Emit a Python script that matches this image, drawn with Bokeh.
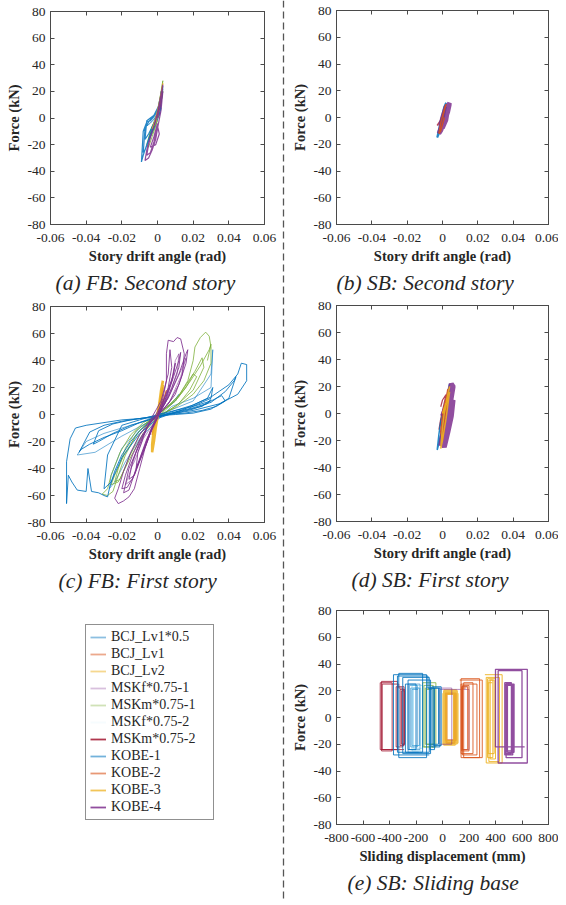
from bokeh.plotting import figure
from bokeh.models import (FixedTicker, LinearAxis, Range1d, Title, Span, Legend,
                          LegendItem, CustomJSTickFormatter)
from bokeh.layouts import row, column
from bokeh.embed import file_html
from bokeh.resources import INLINE

# ---------------- data ----------------
SERIES = ["BCJ_Lv1*0.5", "BCJ_Lv1", "BCJ_Lv2", "MSKf*0.75-1", "MSKm*0.75-1",
          "MSKf*0.75-2", "MSKm*0.75-2", "KOBE-1", "KOBE-2", "KOBE-3", "KOBE-4"]
COLORS = ["#0072BD", "#D95319", "#EDB120", "#7E2F8E", "#77AC30",
          "#4DBEEE", "#A2142F", "#0072BD", "#D95319", "#EDB120", "#7E2F8E"]
LEGEND_ALPHA = [0.45, 0.5, 0.5, 0.3, 0.35, 0.05, 0.85, 0.55, 0.6, 0.75, 0.85]
PLOT_ALPHA = [0.55, 0.7, 0.8, 0.55, 0.75, 0.5, 0.8, 0.85, 0.85, 0.9, 0.85]

DRIFT_TICKS = [-0.06, -0.04, -0.02, 0, 0.02, 0.04, 0.06]
FORCE_TICKS = [-80, -60, -40, -20, 0, 20, 40, 60, 80]
SLIDE_TICKS = [-800, -600, -400, -200, 0, 200, 400, 600, 800]

# (a) FB second story: (drift rad, force kN)
A_BCJ05 = [(0, 0), (0.002, 15), (0.001, 10), (-0.002, -3), (-0.004, -12), (-0.002, -8), (0, 0),
           (0.002, 10), (0.001, 4), (-0.003, -2), (-0.006, -6), (-0.004, -4), (0, 2)]
A_KOBE1 = [(0.000, 0), (0.001, 6), (0.002, 14), (0.003, 24), (0.002, 18), (0.000, 6), (-0.002, 1),
           (-0.004, -2), (-0.006, -3), (-0.008, -10), (-0.009, -33), (-0.008, -28), (-0.006, -20),
           (-0.004, -12), (-0.002, -6), (0.000, -1), (0.001, 4), (0.002, 12), (0.003, 22), (0.001, 10),
           (-0.002, 2), (-0.005, -3), (-0.007, -8), (-0.008, -26), (-0.007, -24), (-0.004, -14),
           (-0.001, -4), (0.001, 4), (0.002, 12), (0.002, 20), (0.001, 8), (-0.001, 3), (-0.004, 0),
           (-0.006, -2), (-0.007, -16), (-0.005, -12), (-0.002, -4), (0.001, 2), (0.002, 8)]
A_MSKM1 = [(0.000, 0), (0.001, 8), (0.002, 18), (0.003, 28), (0.002, 20), (0.000, 5), (-0.002, -4),
           (-0.004, -10), (-0.006, -20), (-0.005, -22), (-0.003, -14), (-0.001, -6), (0.001, 4), (0.003, 20),
           (0.002, 12), (0.000, 2), (-0.003, -6), (-0.005, -16), (-0.003, -12), (0.000, -2)]
A_KOBE3 = [(0, 0), (0.002, 14), (0.003, 26), (0.001, 12), (-0.001, 0), (-0.003, -8), (-0.001, -4), (0.001, 6)]
A_KOBE4 = [(0.000, 0), (0.002, 12), (0.003, 25), (0.002, 18), (0.000, 4), (-0.002, -6), (-0.004, -14),
           (-0.006, -24), (-0.007, -32), (-0.005, -30), (-0.003, -24), (-0.001, -16), (0.000, -8),
           (0.002, 6), (0.003, 20), (0.001, 8), (-0.001, -2), (-0.003, -10), (-0.005, -20), (-0.006, -28),
           (-0.004, -26), (-0.002, -18), (0.000, -6), (0.001, -12), (-0.001, -20), (-0.004, -22),
           (-0.002, -14), (0.000, -4)]

# (b) SB second story
B_KOBE1 = [(0, 0), (0.001, 6), (0.002, 11), (0.001, 8), (-0.001, -3), (-0.002, -9), (-0.003, -15),
           (-0.002, -12), (0, -4), (0.002, 8)]
B_MSKM2 = [(-0.001, -2), (-0.003, -6), (-0.002, -4), (0, 0)]
B_KOBE2 = [(0, 0), (0.001, 5), (0.002, 10), (0.001, 6), (-0.001, -4), (-0.002, -12), (-0.001, -10), (0.001, 0)]
B_KOBE4 = [(0.000, 0), (0.002, 6), (0.004, 11), (0.003, 4), (0.001, -3), (-0.001, -8), (-0.002, -12),
           (-0.001, -10), (0.001, -4), (0.003, 4), (0.004, 10), (0.002, 8), (0.000, 0), (-0.001, -6),
           (0.000, -8), (0.002, -2), (0.003, 6)]

# (c) FB first story
C_BCJ05 = [(0, 0), (0.008, 8), (0.012, 15), (0.010, 10), (0.000, 0), (-0.010, -10), (-0.020, -25),
           (-0.026, -45), (-0.027, -55), (-0.024, -50), (-0.018, -35), (-0.010, -18), (0, -4), (0.008, 6),
           (0.020, 12), (0.030, 20), (0.031, 48), (0.030, 30), (0.020, 10), (0.005, 2), (-0.010, -6),
           (-0.030, -14), (-0.040, -20), (-0.045, -30), (-0.035, -28), (-0.020, -16), (0, -2)]
C_BCJ1 = [(0, 0), (0.003, 10), (0.005, 18), (0.003, 8), (0, -2), (-0.004, -12), (-0.006, -20),
          (-0.004, -14), (0, -2), (0.004, 12)]
C_MSKF1 = [(0, 0), (0.004, 10), (0.008, 25), (0.010, 40), (0.012, 45), (0.011, 30), (0.006, 12), (0, 0),
           (-0.006, -10), (-0.012, -28), (-0.016, -45), (-0.018, -52), (-0.014, -48), (-0.009, -30),
           (-0.003, -10), (0.003, 5), (0.008, 18), (0.014, 35), (0.016, 42), (0.013, 28), (0.007, 10),
           (0, -2), (-0.008, -18), (-0.013, -35), (-0.015, -40)]
C_KOBE1 = [(0.000, 0), (0.010, 3), (0.020, 7), (0.030, 13), (0.040, 22), (0.045, 30), (0.047, 38),
           (0.050, 37), (0.050, 25), (0.045, 15), (0.035, 8), (0.020, 3), (0.010, 1), (0.000, -2),
           (-0.010, -3), (-0.020, -4), (-0.030, -6), (-0.040, -8), (-0.046, -10), (-0.049, -18),
           (-0.051, -35), (-0.051, -66), (-0.050, -45), (-0.048, -50), (-0.045, -56), (-0.040, -57),
           (-0.039, -40), (-0.037, -57), (-0.033, -58), (-0.030, -60), (-0.028, -61), (-0.027, -55),
           (-0.024, -42), (-0.020, -30), (-0.015, -20), (-0.010, -12), (-0.005, -6), (0.000, -2),
           (0.010, 2), (0.020, 5), (0.030, 9), (0.038, 17), (0.043, 25), (0.044, 28), (0.040, 12),
           (0.030, 4), (0.020, 1), (0.010, 0), (0.000, -1), (-0.010, -3), (-0.020, -5), (-0.030, -8),
           (-0.038, -13), (-0.044, -28), (-0.043, -26), (-0.038, -22), (-0.030, -17), (-0.020, -12),
           (-0.010, -6), (0.000, -2), (0.010, 3), (0.020, 6), (0.030, 10), (0.036, 14), (0.038, 10),
           (0.033, 6), (0.025, 3), (0.015, 1), (0.005, 0), (-0.005, -2), (-0.015, -4), (-0.025, -7),
           (-0.033, -12), (-0.036, -22), (-0.033, -20), (-0.025, -14), (-0.015, -8), (-0.005, -4),
           (0.005, 0), (0.015, 3), (0.025, 6), (0.030, 11), (0.028, 8), (0.020, 4), (0.010, 1), (0.000, 0),
           (-0.010, -4), (-0.020, -8), (-0.028, -30), (-0.030, -55), (-0.026, -50), (-0.020, -32),
           (-0.010, -14), (0.000, -3), (0.015, 4), (0.028, 12), (0.031, 20), (0.030, 12), (0.018, 5)]
C_MSKM1 = [(0, 0), (0.006, 6), (0.012, 14), (0.017, 25), (0.020, 40), (0.021, 50), (0.024, 57),
           (0.027, 61), (0.029, 58), (0.030, 50), (0.030, 38), (0.026, 25), (0.020, 15), (0.010, 5),
           (0.000, -1), (-0.008, -6), (-0.015, -15), (-0.021, -28), (-0.026, -45), (-0.028, -55),
           (-0.031, -59), (-0.028, -60), (-0.025, -57), (-0.022, -45), (-0.018, -30), (-0.012, -15),
           (-0.005, -5), (0.003, 3), (0.010, 10), (0.016, 20), (0.020, 30), (0.022, 28), (0.018, 18),
           (0.012, 8), (0.004, 1), (-0.004, -4), (-0.012, -12), (-0.018, -25), (-0.022, -40),
           (-0.024, -50), (-0.021, -48), (-0.016, -32), (-0.010, -15), (-0.003, -4), (0.004, 4),
           (0.012, 14), (0.018, 26), (0.021, 32), (0.025, 42), (0.026, 35), (0.020, 18), (0.010, 6),
           (0.000, -2), (-0.010, -12), (-0.018, -28), (-0.024, -45), (-0.026, -52), (-0.022, -50),
           (-0.016, -34), (-0.008, -14), (0.000, -2), (0.010, 10), (0.018, 24), (0.024, 36),
           (0.029, 48), (0.030, 52), (0.028, 40)]
C_KOBE2 = [(0, 0), (0.002, 10), (0.003, 20), (0.001, 8), (-0.001, -5), (-0.003, -15), (-0.002, -10), (0, 0)]
C_KOBE3 = [(0, 0), (0.002, 15), (0.003, 25), (0.002, 18), (0.001, 8), (0, 0), (-0.002, -10), (-0.003, -22),
           (-0.003, -28), (-0.002, -20), (-0.001, -10), (0.001, 5), (0.002, 12), (0.003, 22), (0.002, 10),
           (0, 0), (-0.002, -12), (-0.003, -25)]
C_KOBE4 = [(0, 0), (0.003, 12), (0.005, 25), (0.005, 45), (0.006, 55), (0.009, 54), (0.011, 57),
           (0.013, 56), (0.015, 45), (0.014, 30), (0.010, 15), (0.005, 6), (0.000, 0), (-0.005, -6),
           (-0.010, -15), (-0.015, -28), (-0.019, -42), (-0.022, -55), (-0.024, -62), (-0.022, -66),
           (-0.019, -64), (-0.016, -61), (-0.013, -55), (-0.010, -40), (-0.007, -25), (-0.003, -10),
           (0.002, 3), (0.007, 15), (0.012, 30), (0.016, 45), (0.017, 48), (0.016, 38), (0.012, 22),
           (0.007, 10), (0.002, 2), (-0.004, -6), (-0.009, -16), (-0.014, -30), (-0.018, -45),
           (-0.020, -55), (-0.017, -54), (-0.013, -45), (-0.008, -28), (-0.004, -14), (0.001, 0),
           (0.005, 12), (0.009, 28), (0.012, 40), (0.013, 46), (0.012, 35), (0.008, 20), (0.004, 8),
           (0.000, 0), (-0.005, -8), (-0.010, -20), (-0.014, -35), (-0.016, -48), (-0.013, -45),
           (-0.009, -30), (-0.004, -12), (0.000, 0), (0.004, 10), (0.008, 25), (0.010, 38), (0.009, 30),
           (0.005, 15), (0.000, 2), (-0.006, -10), (-0.011, -28), (-0.012, -40), (-0.008, -28),
           (-0.003, -10), (0.002, 5), (0.006, 20), (0.008, 35), (0.007, 48), (0.006, 30), (0.002, 10),
           (-0.004, -4), (-0.010, -22), (-0.016, -40), (-0.019, -58), (-0.016, -56), (-0.012, -40),
           (-0.006, -18), (0.000, -2)]

# (d) SB first story
D_MSKM2 = [(-0.001, 5), (0, 10), (0.002, 14), (0.001, 8), (-0.001, -4), (-0.002, -12), (-0.001, -6)]
D_KOBE1 = [(0, 0), (0.002, 8), (0.004, 22), (0.003, 14), (0.001, 4), (-0.001, -6), (-0.002, -15),
           (-0.003, -27), (-0.002, -22), (0, -10), (0.002, 4), (0.004, 18)]
D_KOBE2 = [(0, 0), (0.002, 10), (0.003, 18), (0.002, 10), (0, -2), (-0.001, -14), (0, -20), (0.001, -8), (0.003, 12)]
D_KOBE3 = [(0, 0), (0.002, 8), (0.004, 20), (0.003, 12), (0.001, 0), (0, -10), (-0.001, -26),
           (0, -20), (0.002, -4), (0.004, 16)]
D_KOBE4 = [(0.000, -2), (0.003, 8), (0.005, 16), (0.006, 21), (0.005, 12), (0.003, 2), (0.001, -10),
           (0.000, -20), (0.001, -25), (0.003, -14), (0.005, -2), (0.006, 10), (0.004, 4), (0.002, -6),
           (0.000, -16), (-0.001, -24), (0.000, -18), (0.002, -8), (0.004, 4), (0.006, 20), (0.005, 22),
           (0.003, 10), (0.001, -4), (0.000, -14), (0.002, -10), (0.004, 4), (0.005, 14)]

# (e) SB sliding base: reversal displacements (mm) and friction force per excursion (kN)
E_BCJ05_REV = [-180, -260, -170, -250, -190, -240, -175, -230, -185]
E_BCJ05_F = [26, 25, 24, 24, 22, 22, 21, 21]
E_BCJ1_REV = [20, 90, 30, 100, 25, 85]
E_BCJ1_F = [18, 19, 18, 17, 18]
E_BCJ2_REV = [10, 100, 15, 105, 20, 95, 10, 110, 25, 90, 15, 100]
E_BCJ2_F = [20, 19, 20, 18, 19, 20, 18, 19, 20, 18, 20]
E_MSKF1_REV = [-30, 70, -20, 200, 150, 190]
E_MSKF1_F = [22, 20, 21, 24, 23]
E_MSKM1_REV = [-60, -150, -50, -140, -70, -130, -60, -120, -80]
E_MSKM1_F = [22, 26, 22, 24, 20, 22, 20, 21]
E_MSKF2_REV = [-160, -230, -150, -220, -165, -210]
E_MSKF2_F = [25, 24, 23, 22, 21]
E_MSKM2_REV = [-290, -470, -380, -460, -340, -455, -330, -300, -350, -290, -320, -285, -310, -290, -305]
E_MSKM2_F = [24, 26, 25, 27, 24, 25, 22, 22, 23, 21, 21, 20, 20, 20]
E_KOBE1_REV = [-100, -370, -120, -330, -150, -280, -200, -260, -90, -300, -100, -340, -110, -60, -95,
               -20, -80, -10, -70, -30, -75]
E_KOBE1_F = [28, 32, 30, 33, 26, 25, 24, 28, 27, 30, 26, 31, 22, 24, 22, 22, 23, 21, 22, 20]
E_KOBE2_REV = [130, 300, 140, 280, 160, 230, 140, 260, 150, 200, 145, 190, 150, 175]
E_KOBE2_F = [28, 30, 29, 30, 26, 27, 25, 28, 24, 25, 23, 24, 22]
E_KOBE3_REV = [320, 450, 330, 430, 350, 380, 340, 400, 360, 390, 345, 375]
E_KOBE3_F = [32, 34, 30, 33, 28, 30, 29, 31, 28, 27, 26]
E_KOBE4_REV = [620, 400, 640, 420, 600, 480, 530, 470, 520, 480, 540, 490, 525, 485, 515]
E_KOBE4_F = [22, 36, 34, 35, 30, 25, 28, 26, 27, 25, 26, 24, 25, 24]

# ---------------- styling ----------------
FONT = "Liberation Serif"
AXC = "#4a4a4a"
TXT = "#262626"
DRIFT_FMT = "return Math.abs(tick) < 1e-9 ? '0' : tick.toFixed(2);"
INT_FMT = "return tick.toFixed(0);"
NAN = float("nan")


def style_axis(ax, ticks, fmt_code, label):
    ax.ticker = FixedTicker(ticks=ticks)
    ax.formatter = CustomJSTickFormatter(code=fmt_code)
    ax.axis_line_color = AXC
    ax.major_tick_line_color = AXC
    ax.major_tick_in = 4
    ax.major_tick_out = 0
    ax.minor_tick_in = 0
    ax.minor_tick_out = 0
    ax.major_label_text_font = FONT
    ax.major_label_text_color = TXT
    ax.major_label_text_font_size = "13.5px"
    ax.axis_label = label
    ax.axis_label_text_font = FONT
    ax.axis_label_text_font_style = "bold"
    ax.axis_label_text_font_size = "14.5px"
    ax.axis_label_text_color = TXT


def tick_only_axis(ticks):
    # mirrored box ticks (drawn as minor ticks so no labels are produced)
    ax = LinearAxis(ticker=FixedTicker(ticks=[], minor_ticks=ticks))
    ax.axis_line_color = AXC
    ax.minor_tick_line_color = AXC
    ax.minor_tick_in = 4
    ax.minor_tick_out = 0
    ax.major_tick_in = 0
    ax.major_tick_out = 0
    ax.major_label_standoff = 0
    return ax


def make_panel(xr, xticks, xfmt, xlabel, caption, w, h, ml, mr, mt, mb, cap_off):
    p = figure(width=w, height=h, x_range=Range1d(*xr), y_range=Range1d(-80, 80),
               output_backend="svg", toolbar_location=None,
               min_border_left=ml, min_border_right=mr, min_border_top=mt, min_border_bottom=mb)
    p.grid.visible = False
    p.outline_line_color = AXC
    style_axis(p.xaxis[0], xticks, xfmt, xlabel)
    p.xaxis[0].major_label_standoff = 9
    p.xaxis[0].axis_label_standoff = 3
    style_axis(p.yaxis[0], FORCE_TICKS, INT_FMT, "Force (kN)")
    p.yaxis[0].major_label_standoff = 5
    p.yaxis[0].axis_label_standoff = 3
    p.add_layout(tick_only_axis(xticks), "above")
    p.add_layout(tick_only_axis(FORCE_TICKS), "right")
    p.add_layout(Title(text=caption, text_font=FONT, text_font_style="italic",
                       text_font_size="21.5px", text_color=TXT, align="left",
                       offset=cap_off, standoff=5), "below")
    return p


def draw_loop(p, pts, idx, width=1.0):
    xs = [q[0] for q in pts]
    ys = [q[1] for q in pts]
    p.line(xs, ys, line_color=COLORS[idx], line_alpha=PLOT_ALPHA[idx], line_width=width)


def draw_friction(p, rev, frc, idx, width=1.0):
    xs, ys = [], []
    for i in range(len(rev) - 1):
        s = 1 if rev[i + 1] > rev[i] else -1
        xs += [rev[i], rev[i + 1]]
        ys += [s * frc[i], s * frc[i]]
    p.line(xs, ys, line_color=COLORS[idx], line_alpha=PLOT_ALPHA[idx], line_width=width)


DRIFT_LABEL = "Story drift angle (rad)"

pa = make_panel((-0.06, 0.06), DRIFT_TICKS, DRIFT_FMT, DRIFT_LABEL, "(a) FB: Second story",
                280, 297, 50, 16, 11, 72, 5)
draw_loop(pa, A_BCJ05, 0)
draw_loop(pa, A_MSKM1, 4)
draw_loop(pa, A_KOBE1, 7, 1.2)
draw_loop(pa, A_KOBE3, 9)
draw_loop(pa, A_KOBE4, 10, 1.2)

pb = make_panel((-0.06, 0.06), DRIFT_TICKS, DRIFT_FMT, DRIFT_LABEL, "(b) SB: Second story",
                272, 297, 46, 10, 10, 72, 0)
draw_loop(pb, B_MSKM2, 6, 1.5)
draw_loop(pb, B_KOBE1, 7, 2.0)
draw_loop(pb, B_KOBE4, 10, 4.5)
draw_loop(pb, B_KOBE2, 8, 1.5)

pc = make_panel((-0.06, 0.06), DRIFT_TICKS, DRIFT_FMT, DRIFT_LABEL, "(c) FB: First story",
                280, 300, 50, 14, 9, 75, 8)
draw_loop(pc, C_BCJ05, 0)
draw_loop(pc, C_BCJ1, 1)
draw_loop(pc, C_MSKF1, 3)
draw_loop(pc, C_MSKM1, 4)
draw_loop(pc, C_KOBE1, 7)
draw_loop(pc, C_KOBE2, 8, 1.5)
draw_loop(pc, C_KOBE3, 9, 2.5)
draw_loop(pc, C_KOBE4, 10)

pd = make_panel((-0.06, 0.06), DRIFT_TICKS, DRIFT_FMT, DRIFT_LABEL, "(d) SB: First story",
                272, 300, 48, 9, 8, 76, 15)
draw_loop(pd, D_MSKM2, 6, 1.2)
draw_loop(pd, D_KOBE1, 7, 1.5)
draw_loop(pd, D_KOBE4, 10, 5.0)
draw_loop(pd, D_KOBE2, 8, 1.5)
draw_loop(pd, D_KOBE3, 9, 1.5)

pe = make_panel((-800, 800), SLIDE_TICKS, INT_FMT, "Sliding displacement (mm)", "(e) SB: Sliding base",
                272, 300, 50, 7, 13, 73, 11)
draw_friction(pe, E_BCJ05_REV, E_BCJ05_F, 0, 1.0)
draw_friction(pe, E_BCJ1_REV, E_BCJ1_F, 1, 2.0)
draw_friction(pe, E_BCJ2_REV, E_BCJ2_F, 2, 3.0)
draw_friction(pe, E_MSKF1_REV, E_MSKF1_F, 3, 1.0)
draw_friction(pe, E_MSKM1_REV, E_MSKM1_F, 4, 1.0)
draw_friction(pe, E_MSKF2_REV, E_MSKF2_F, 5, 1.0)
draw_friction(pe, E_MSKM2_REV, E_MSKM2_F, 6, 1.0)
draw_friction(pe, E_KOBE1_REV, E_KOBE1_F, 7, 1.0)
draw_friction(pe, E_KOBE2_REV, E_KOBE2_F, 8, 1.0)
draw_friction(pe, E_KOBE3_REV, E_KOBE3_F, 9, 1.0)
draw_friction(pe, E_KOBE4_REV, E_KOBE4_F, 10, 1.3)

# legend panel (legend-only line renderers hold a single NaN point, so nothing is drawn in the plot area)
pl = figure(width=280, height=300, x_range=Range1d(0, 1), y_range=Range1d(0, 1),
            output_backend="svg", toolbar_location=None, min_border=0,
            x_axis_location=None, y_axis_location=None)
pl.grid.visible = False
pl.outline_line_color = None
items = []
for i, name in enumerate(SERIES):
    r = pl.line([NAN], [NAN], line_color=COLORS[i], line_alpha=LEGEND_ALPHA[i], line_width=1.8)
    items.append(LegendItem(label=name, renderers=[r]))
leg = Legend(items=items, location=(35, 77), margin=0, padding=4, spacing=1,
             glyph_width=16, glyph_height=14, label_height=14, label_width=98,
             label_standoff=5, label_text_font=FONT, label_text_font_size="14px",
             label_text_color=TXT, border_line_color="#222222", border_line_width=1,
             background_fill_alpha=1.0)
pl.add_layout(leg)

# dashed separator
ps = figure(width=6, height=900, x_range=Range1d(-1, 1), y_range=Range1d(0, 1),
            output_backend="svg", toolbar_location=None, min_border=0,
            x_axis_location=None, y_axis_location=None)
ps.grid.visible = False
ps.outline_line_color = None
ps.add_layout(Span(location=0, dimension="height", line_color="#555555",
                   line_width=1.3, line_dash="7 4"))

layout = row(column(pa, pc, pl), ps, column(pb, pd, pe))
open("out.html", "w").write(file_html(layout, INLINE))
